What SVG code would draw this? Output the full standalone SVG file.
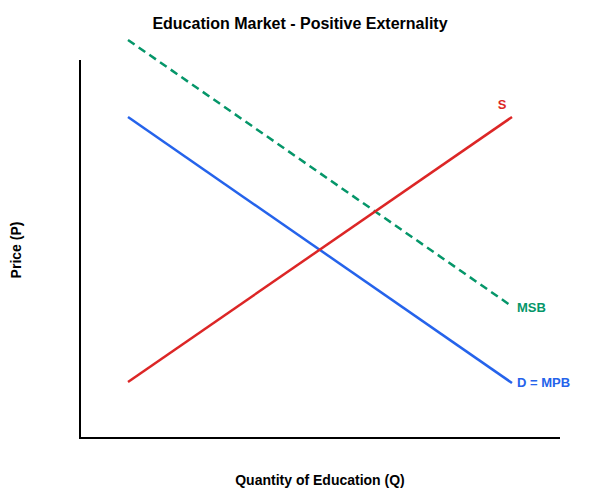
<svg xmlns="http://www.w3.org/2000/svg" width="600" height="500" viewBox="0 0 600 500">
<style>
text{font-family:"Liberation Sans",Arial,sans-serif;font-weight:bold}
.t{font-size:16px;fill:#000}
.ax{font-size:14px;fill:#000}
.lb{font-size:13px}
.axis{stroke:#000;stroke-width:2;fill:none}
</style>
<rect width="600" height="500" fill="#fff"/>
<text class="t" x="300" y="29" text-anchor="middle">Education Market - Positive Externality</text>
<g id="axes">
<path class="axis" d="M80,60 V438 H560"/>
</g>
<text class="ax" x="21" y="250" text-anchor="middle" transform="rotate(-90 21 250)">Price (P)</text>
<text class="ax" x="320" y="485" text-anchor="middle">Quantity of Education (Q)</text>
<g id="connectors">
<line id="msb" x1="128" y1="40" x2="510" y2="305" stroke="#059669" stroke-width="2.5" stroke-dasharray="8,5"/>
<line id="demand" x1="128" y1="117" x2="512" y2="383" stroke="#2563eb" stroke-width="2.5"/>
<line id="supply" x1="128" y1="382" x2="512" y2="117" stroke="#dc2626" stroke-width="2.5"/>
</g>
<g id="labels">
<text class="lb" x="502" y="109" text-anchor="middle" fill="#dc2626">S</text>
<text class="lb" x="517" y="312" fill="#059669">MSB</text>
<text class="lb" x="517" y="387" fill="#2563eb">D = MPB</text>
</g>
</svg>
